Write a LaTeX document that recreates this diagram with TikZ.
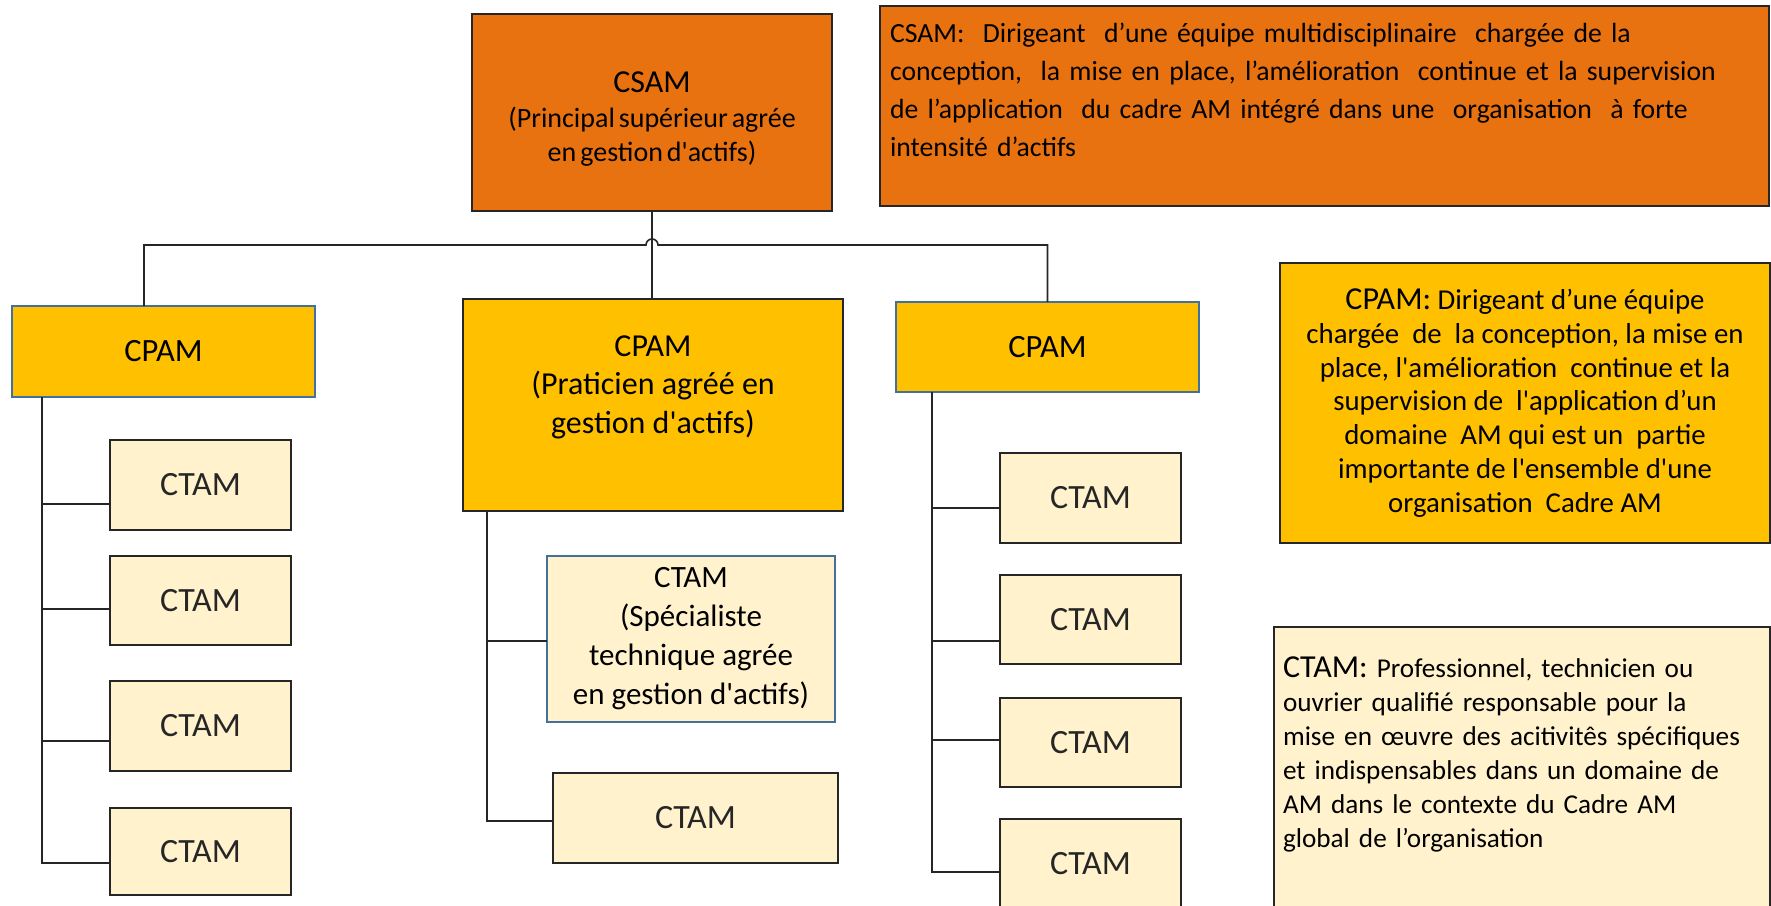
\documentclass[tikz,border=0pt]{standalone}
\usepackage{fontspec}
\setmainfont{Carlito}[Ligatures=TeXOff]
\usetikzlibrary{calc}
\definecolor{csamor}{HTML}{E97210}
\definecolor{cpamye}{HTML}{FFC000}
\definecolor{ctamlt}{HTML}{FFF2CC}
\definecolor{bluebd}{HTML}{41719C}
\definecolor{darkln}{HTML}{262626}
\newcommand{\fs}[2]{\fontsize{#1}{#2}\selectfont}
\begin{document}
\begin{tikzpicture}[x=1pt,y=-1pt,
  boxbase/.style={draw=darkln, line width=1.8pt, inner sep=0pt, outer sep=0pt, anchor=north west, align=center},
  csambox/.style={boxbase, fill=csamor},
  cpambox/.style={boxbase, fill=cpamye},
  cpamblue/.style={cpambox, draw=bluebd, line width=1.5pt},
  ctambox/.style={boxbase, fill=ctamlt, text=black!85, font=\fs{34}{38}},
  boxtext/.style={inner sep=0pt, align=center},
  conn/.style={draw=darkln, line width=1.6pt}
]
\useasboundingbox (0,0) rectangle (1771,905);
\fill[white] (0,0) rectangle (1771,905);

% top level
\node[csambox, minimum width=360pt, minimum height=197pt] (csam) at (472,14) {};
\node[boxtext, font={\fs{28}{34.5}\spaceskip=4pt plus 1pt\relax}] (csamt) at ($(csam.center)+(0,7)$)
  {{\fs{32}{36}CSAM}\\(Principal supérieur agrée\\en gestion d'actifs)};

% descriptions
\node[csambox, minimum width=889pt, minimum height=200pt, align=left, text width=869pt, inner xsep=10pt, font=\fs{27.7}{38}] (csamd) at (880,6)
  {CSAM:\ \ Dirigeant\ \ d’une équipe multidisciplinaire\ \ chargée de la\\conception,\ \ la mise en place, l’amélioration\ \ continue et la supervision\\de l’application\ \ du cadre AM intégré dans une\ \ organisation\ \ à forte\\intensité d’actifs\\[-16pt]\strut};
\node[cpambox, minimum width=490pt, minimum height=280pt, font=\fs{28.8}{33.7}] (cpamd) at (1280,263)
  {{\fs{32}{33.7}CPAM:} Dirigeant d’une équipe\\chargée\ \ de\ \ la conception, la mise en\\place, l'amélioration\ \ continue et la\\supervision de\ \ l'application d’un\\domaine\ \ AM qui est un\ \ partie\\importante de l'ensemble d'une\\organisation\ \ Cadre AM};
\node[ctambox, minimum width=496pt, minimum height=283pt, align=left, text width=478pt, inner xsep=9pt, text=black, font=\fs{27.2}{34}] (ctamd) at (1274,627)
  {{\fs{32}{34}CTAM:} Professionnel, technicien ou\\ouvrier qualifié responsable pour la\\mise en œuvre des acitivitês spécifiques\\et indispensables dans un domaine de\\AM dans le contexte du Cadre AM\\global de l’organisation\\[-12pt]\strut};

% CPAM level
\node[cpamblue, minimum width=303pt, minimum height=91pt, font=\fs{32.5}{38}] (cp1) at (12,306) {CPAM};
\node[cpambox, minimum width=380pt, minimum height=212pt] (cp2) at (463,299) {};
\node[boxtext, font=\fs{32}{38.5}] (cp2t) at ($(cp2.center)+(0,-18)$)
  {CPAM\\(Praticien agréé en\\gestion d'actifs)};
\node[cpamblue, minimum width=303pt, minimum height=90pt, font=\fs{32.5}{38}] (cp3) at (896,302) {CPAM};

% CTAM left column
\node[ctambox, minimum width=181pt, minimum height=90pt] (t11) at (110,440) {CTAM};
\node[ctambox, minimum width=181pt, minimum height=89pt] (t12) at (110,556) {CTAM};
\node[ctambox, minimum width=181pt, minimum height=90pt] (t13) at (110,681) {CTAM};
\node[ctambox, minimum width=181pt, minimum height=87pt] (t14) at (110,808) {CTAM};

% CTAM middle column
\node[ctambox, draw=bluebd, line width=1.5pt, minimum width=288pt, minimum height=166pt, text=black, font=\fs{31}{39}] (sp) at (547,556)
  {CTAM\\(Spécialiste\\technique agrée\\en gestion d'actifs)};
\node[ctambox, minimum width=285pt, minimum height=90pt] (t21) at (553,773) {CTAM};

% CTAM right column
\node[ctambox, minimum width=181pt, minimum height=90pt] (t31) at (1000,453) {CTAM};
\node[ctambox, minimum width=181pt, minimum height=89pt] (t32) at (1000,575) {CTAM};
\node[ctambox, minimum width=181pt, minimum height=89pt] (t33) at (1000,698) {CTAM};
\node[ctambox, minimum width=181pt, minimum height=90pt] (t34) at (1000,819) {CTAM};

% top connectors
\coordinate (lt) at ($(cp1.north west)+(132,0)$);
\coordinate (hb) at ($(lt)+(0,-61)$);
\draw[conn] (lt) -- (hb) -- ($(csam.south |- hb)+(-6,0)$) arc[start angle=180, end angle=0, radius=6pt] -- (cp3.north |- hb) -- (cp3.north);
\draw[conn] (csam.south) -- (csam.south |- cp2.north);

% left tree
\coordinate (lv) at ($(cp1.south west)+(30,0)$);
\coordinate (b11) at ($(t11.north west)+(0,64)$);
\coordinate (b12) at ($(t12.north west)+(0,53)$);
\coordinate (b13) at ($(t13.north west)+(0,60)$);
\coordinate (b14) at ($(t14.north west)+(0,55)$);
\draw[conn] (lv) |- (b14);
\draw[conn] (lv |- b11) -- (b11);
\draw[conn] (lv |- b12) -- (b12);
\draw[conn] (lv |- b13) -- (b13);

% middle tree
\coordinate (mv) at ($(cp2.south west)+(24,0)$);
\coordinate (b21) at ($(sp.north west)+(0,85)$);
\coordinate (b22) at ($(t21.north west)+(0,48)$);
\draw[conn] (mv) |- (b22);
\draw[conn] (mv |- b21) -- (b21);

% right tree
\coordinate (rv) at ($(cp3.south west)+(36,0)$);
\coordinate (b31) at ($(t31.north west)+(0,55)$);
\coordinate (b32) at ($(t32.north west)+(0,66)$);
\coordinate (b33) at ($(t33.north west)+(0,42)$);
\coordinate (b34) at ($(t34.north west)+(0,53)$);
\draw[conn] (rv) |- (b34);
\draw[conn] (rv |- b31) -- (b31);
\draw[conn] (rv |- b32) -- (b32);
\draw[conn] (rv |- b33) -- (b33);
\end{tikzpicture}
\end{document}
